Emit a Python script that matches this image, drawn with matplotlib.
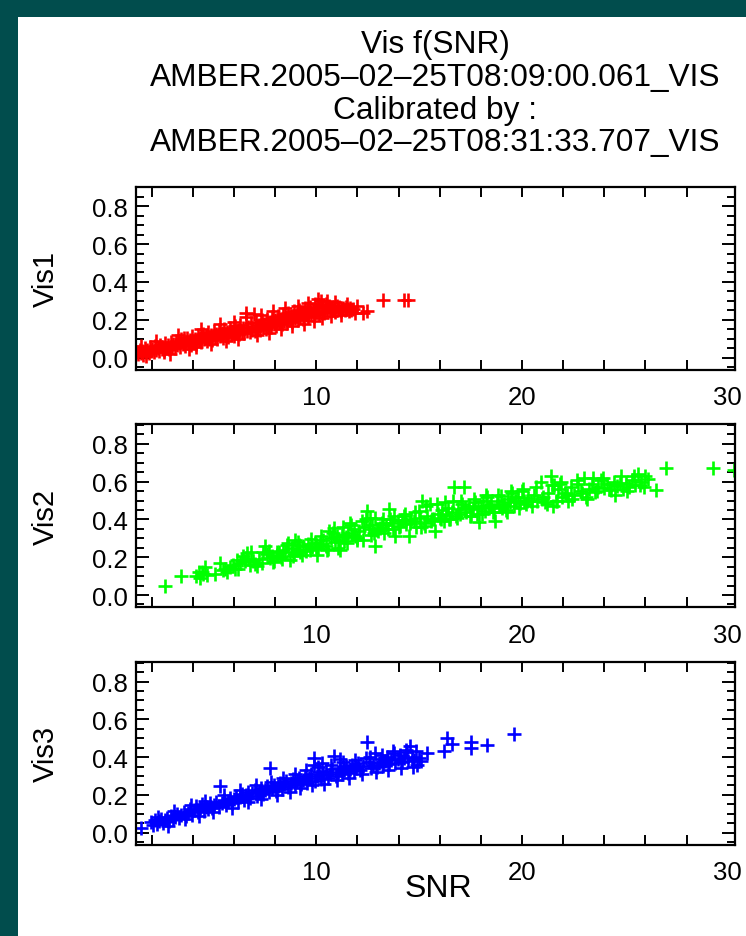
import matplotlib
matplotlib.use("Agg")
import matplotlib.pyplot as plt
from matplotlib.patches import Rectangle
from matplotlib.ticker import FixedLocator, MultipleLocator

plt.rcParams['font.family'] = ['Liberation Sans', 'DejaVu Sans']

title_lines = ["Vis f(SNR)",
               "AMBER.2005\u201302\u201325T08:09:00.061_VIS",
               "Calibrated by :",
               "AMBER.2005\u201302\u201325T08:31:33.707_VIS"]
x_label = "SNR"
panel_labels = ["Vis1", "Vis2", "Vis3"]
panel_colors = ["#ff0000", "#00ff00", "#0000ff"]
x_range = [1.24, 30.35]
y_range = [-0.065, 0.905]
x_major = [10, 20, 30]
x_minor = [2, 4, 6, 8, 12, 14, 16, 18, 22, 24, 26, 28]
y_major = [0.0, 0.2, 0.4, 0.6, 0.8]

vis1_snr = [1.30, 1.36, 1.42, 1.48, 1.55, 1.60, 1.66, 1.72, 1.79, 1.85, 1.90, 1.97,
            2.03, 2.10, 2.16, 2.22, 2.29, 2.35, 2.41, 2.48, 2.55, 2.61, 2.67, 2.74,
            2.80, 2.86, 2.93, 3.00, 3.06, 3.12, 3.19, 3.25, 3.32, 3.38, 3.45, 3.51,
            3.58, 3.64, 3.71, 3.77, 3.84, 3.90, 3.97, 4.03, 4.10, 4.16, 4.23, 4.29,
            4.36, 4.42, 4.49, 4.55, 4.62, 4.68, 4.75, 4.81, 4.88, 4.94, 5.01, 5.07,
            5.14, 5.20, 5.27, 5.33, 5.40, 5.46, 5.53, 5.59, 5.66, 5.72, 5.79, 5.85,
            5.92, 5.98, 6.05, 6.11, 6.18, 6.24, 6.31, 6.37, 6.44, 6.50, 6.57, 6.63,
            6.70, 6.76, 6.83, 6.89, 6.96, 7.02, 7.09, 7.15, 7.22, 7.28, 7.35, 7.41,
            7.48, 7.54, 7.61, 7.67, 7.74, 7.80, 7.87, 7.93, 8.00, 8.06, 8.13, 8.19,
            8.26, 8.32, 8.39, 8.45, 8.52, 8.58, 8.65, 8.71, 8.78, 8.84, 8.91, 8.97,
            9.04, 9.10, 9.17, 9.23, 9.30, 9.36, 9.43, 9.49, 9.56, 9.62, 9.69, 9.75,
            9.82, 9.88, 9.95, 10.01, 10.08, 10.14, 10.21, 10.27, 10.34, 10.40, 10.47, 10.53,
            10.60, 10.66, 10.73, 10.79, 10.86, 10.92, 10.99, 11.05, 11.12, 11.18, 11.25, 11.31,
            11.38, 11.44, 11.51, 11.57, 11.64, 11.70, 11.80, 12.25, 12.45, 13.25, 14.25, 14.45,
            2.20, 2.90, 3.30, 3.80, 4.40, 4.90, 5.30, 5.60, 6.00, 6.20, 6.60, 7.10,
            7.30, 7.70, 7.90, 8.30, 8.50, 8.80, 9.10, 9.40, 9.60, 9.90, 10.10, 10.30,
            10.50, 10.70, 10.90, 11.20, 11.50, 11.90, 12.00, 1.50, 1.75, 2.60, 3.55, 4.15]
vis1_val = [0.030, 0.018, 0.042, 0.025, 0.036, 0.015, 0.048, 0.030, 0.040, 0.022, 0.055, 0.035,
            0.046, 0.028, 0.060, 0.040, 0.052, 0.034, 0.068, 0.045, 0.058, 0.040, 0.075, 0.052,
            0.064, 0.046, 0.082, 0.058, 0.070, 0.050, 0.090, 0.064, 0.078, 0.056, 0.098, 0.070,
            0.084, 0.062, 0.105, 0.076, 0.092, 0.068, 0.112, 0.084, 0.098, 0.074, 0.120, 0.090,
            0.104, 0.080, 0.126, 0.096, 0.112, 0.086, 0.135, 0.100, 0.118, 0.092, 0.140, 0.106,
            0.124, 0.098, 0.146, 0.112, 0.130, 0.104, 0.152, 0.118, 0.136, 0.110, 0.158, 0.124,
            0.142, 0.116, 0.165, 0.130, 0.148, 0.122, 0.172, 0.136, 0.154, 0.128, 0.215, 0.142,
            0.160, 0.134, 0.184, 0.148, 0.230, 0.140, 0.190, 0.154, 0.172, 0.146, 0.196, 0.160,
            0.180, 0.152, 0.204, 0.168, 0.188, 0.160, 0.212, 0.176, 0.196, 0.168, 0.220, 0.184,
            0.204, 0.176, 0.228, 0.192, 0.212, 0.184, 0.236, 0.200, 0.220, 0.190, 0.244, 0.208,
            0.228, 0.198, 0.252, 0.216, 0.236, 0.206, 0.260, 0.224, 0.244, 0.214, 0.268, 0.232,
            0.252, 0.222, 0.285, 0.240, 0.262, 0.230, 0.300, 0.248, 0.270, 0.238, 0.282, 0.254,
            0.272, 0.244, 0.262, 0.250, 0.268, 0.242, 0.274, 0.252, 0.265, 0.246, 0.258, 0.262,
            0.250, 0.268, 0.255, 0.245, 0.262, 0.252, 0.258, 0.235, 0.248, 0.305, 0.302, 0.305,
            0.085, 0.020, 0.120, 0.045, 0.150, 0.070, 0.175, 0.085, 0.190, 0.100, 0.235, 0.120,
            0.225, 0.130, 0.245, 0.150, 0.260, 0.165, 0.275, 0.180, 0.290, 0.195, 0.310, 0.210,
            0.300, 0.220, 0.295, 0.225, 0.285, 0.235, 0.270, 0.060, 0.010, 0.030, 0.105, 0.055]

vis2_snr = [2.65, 3.41, 4.16, 4.30, 4.35, 4.43, 4.52, 4.60, 4.68, 5.45, 5.55, 5.65,
            5.80, 5.97, 6.05, 6.14, 6.30, 6.46, 6.55, 6.62, 6.70, 6.78, 6.95, 7.10,
            7.20, 7.35, 7.50, 7.60, 7.68, 7.75, 7.84, 7.95, 8.08, 8.20, 8.30, 8.40,
            8.50, 8.65, 8.73, 8.80, 8.90, 8.97, 9.06, 9.15, 9.22, 9.30, 9.38, 9.50,
            9.60, 9.70, 9.80, 9.95, 10.03, 10.10, 10.20, 10.35, 10.45, 10.50, 10.60, 10.70,
            10.84, 10.90, 11.00, 11.10, 11.16, 11.25, 11.33, 11.45, 11.55, 11.65, 11.75, 11.81,
            11.90, 11.98, 12.10, 12.20, 12.30, 12.46, 12.55, 12.62, 12.70, 12.79, 12.87, 12.95,
            13.10, 13.20, 13.30, 13.40, 13.52, 13.60, 13.68, 13.75, 13.84, 13.95, 14.08, 14.15,
            14.25, 14.35, 14.50, 14.60, 14.73, 14.85, 14.98, 15.05, 15.14, 15.22, 15.30, 15.40,
            15.54, 15.62, 15.70, 15.79, 15.90, 16.00, 16.10, 16.20, 16.30, 16.40, 16.50, 16.60,
            16.70, 16.80, 16.90, 17.00, 17.10, 17.20, 17.30, 17.40, 17.50, 17.60, 17.70, 17.80,
            17.90, 18.00, 18.10, 18.20, 18.30, 18.40, 18.50, 18.60, 18.70, 18.80, 18.90, 19.00,
            19.10, 19.20, 19.30, 19.40, 19.50, 19.60, 19.70, 19.80, 19.90, 20.00, 20.10, 20.20,
            20.30, 20.45, 20.60, 20.75, 20.90, 21.00, 21.10, 21.25, 21.40, 21.50, 21.55, 21.65,
            21.75, 21.85, 21.95, 22.10, 22.25, 22.40, 22.55, 22.70, 22.85, 23.00, 23.10, 23.25,
            23.40, 23.55, 23.70, 23.85, 24.00, 24.15, 24.30, 24.45, 24.60, 24.75, 24.90, 25.05,
            25.20, 25.35, 25.50, 25.65, 25.80, 25.95, 26.10, 26.50, 27.00, 29.30, 30.30,
            5.10, 5.30, 6.20, 6.40, 6.85, 7.00, 7.40, 7.90, 8.10, 8.35, 8.60, 8.85,
            9.10, 9.45, 9.75, 10.00, 10.25, 10.55, 10.80, 11.05, 11.30, 11.50, 11.70, 12.00,
            12.25, 12.40, 12.65, 12.85, 13.00, 13.25, 13.50, 13.80, 14.00, 14.30, 14.55, 14.80,
            15.10, 15.35, 15.60, 15.85, 16.05, 16.25, 16.45, 16.65, 16.85, 17.05, 17.25, 17.45,
            17.65, 17.85, 18.05, 18.25, 18.45, 18.65, 18.85, 19.05, 19.25, 19.45, 19.65, 19.85,
            20.05, 20.25, 20.50, 20.70, 20.95, 21.20, 21.45, 21.70, 21.90, 22.20, 22.45, 22.65,
            22.90, 23.15, 23.45, 23.65, 23.95, 24.25, 24.50, 24.80, 25.10, 25.45, 25.75, 26.00]
vis2_val = [0.048, 0.100, 0.098, 0.120, 0.089, 0.124, 0.110, 0.150, 0.107, 0.133, 0.140, 0.124,
            0.150, 0.160, 0.140, 0.187, 0.170, 0.204, 0.180, 0.222, 0.190, 0.160, 0.178, 0.151,
            0.190, 0.170, 0.258, 0.215, 0.231, 0.195, 0.204, 0.180, 0.213, 0.230, 0.200, 0.240,
            0.225, 0.276, 0.187, 0.250, 0.215, 0.293, 0.240, 0.265, 0.225, 0.213, 0.258, 0.235,
            0.270, 0.240, 0.255, 0.276, 0.213, 0.250, 0.270, 0.293, 0.260, 0.240, 0.338, 0.300,
            0.356, 0.280, 0.311, 0.290, 0.240, 0.320, 0.284, 0.305, 0.330, 0.382, 0.320, 0.347,
            0.310, 0.293, 0.340, 0.391, 0.360, 0.444, 0.350, 0.409, 0.370, 0.329, 0.258, 0.345,
            0.356, 0.380, 0.330, 0.370, 0.453, 0.400, 0.382, 0.350, 0.311, 0.390, 0.364, 0.395,
            0.418, 0.375, 0.311, 0.400, 0.391, 0.360, 0.444, 0.410, 0.498, 0.380, 0.364, 0.420,
            0.480, 0.400, 0.400, 0.338, 0.430, 0.410, 0.450, 0.390, 0.425, 0.460, 0.400, 0.440,
            0.570, 0.420, 0.455, 0.430, 0.480, 0.570, 0.440, 0.470, 0.420, 0.455, 0.490, 0.430,
            0.385, 0.470, 0.500, 0.445, 0.520, 0.460, 0.480, 0.440, 0.390, 0.500, 0.470, 0.525,
            0.480, 0.450, 0.510, 0.490, 0.540, 0.470, 0.500, 0.520, 0.485, 0.550, 0.500, 0.480,
            0.515, 0.495, 0.530, 0.500, 0.600, 0.520, 0.490, 0.540, 0.630, 0.470, 0.580, 0.500,
            0.560, 0.590, 0.520, 0.540, 0.500, 0.570, 0.530, 0.590, 0.550, 0.620, 0.520, 0.560,
            0.590, 0.545, 0.570, 0.610, 0.565, 0.590, 0.555, 0.600, 0.575, 0.585, 0.560, 0.595,
            0.570, 0.610, 0.580, 0.640, 0.600, 0.570, 0.615, 0.555, 0.670, 0.670, 0.660,
            0.110, 0.170, 0.140, 0.185, 0.225, 0.165, 0.225, 0.175, 0.225, 0.190, 0.265, 0.205,
            0.280, 0.240, 0.295, 0.255, 0.310, 0.245, 0.330, 0.250, 0.360, 0.275, 0.370, 0.300,
            0.290, 0.400, 0.320, 0.410, 0.340, 0.400, 0.350, 0.420, 0.360, 0.430, 0.380, 0.440,
            0.360, 0.470, 0.390, 0.480, 0.400, 0.490, 0.400, 0.500, 0.410, 0.500, 0.460, 0.420,
            0.510, 0.460, 0.430, 0.530, 0.470, 0.440, 0.530, 0.460, 0.440, 0.550, 0.500, 0.460,
            0.560, 0.500, 0.470, 0.570, 0.510, 0.480, 0.580, 0.500, 0.600, 0.530, 0.510, 0.610,
            0.540, 0.510, 0.620, 0.550, 0.620, 0.560, 0.530, 0.630, 0.550, 0.630, 0.580, 0.630]

vis3_snr = [1.46, 1.95, 2.05, 2.15, 2.25, 2.35, 2.45, 2.55, 2.65, 2.75, 2.85, 2.95,
            3.05, 3.15, 3.25, 3.35, 3.45, 3.55, 3.65, 3.75, 3.85, 3.95, 4.05, 4.15,
            4.25, 4.35, 4.45, 4.55, 4.65, 4.75, 4.85, 4.95, 5.05, 5.15, 5.25, 5.32,
            5.40, 5.50, 5.60, 5.70, 5.80, 5.90, 6.00, 6.10, 6.20, 6.30, 6.40, 6.50,
            6.60, 6.70, 6.80, 6.90, 7.00, 7.10, 7.20, 7.30, 7.40, 7.50, 7.60, 7.70,
            7.76, 7.85, 7.95, 8.05, 8.15, 8.25, 8.35, 8.45, 8.55, 8.65, 8.75, 8.85,
            8.95, 9.05, 9.15, 9.25, 9.35, 9.45, 9.55, 9.65, 9.75, 9.87, 9.95, 10.05,
            10.15, 10.25, 10.35, 10.45, 10.55, 10.65, 10.75, 10.84, 10.95, 11.05, 11.15, 11.25,
            11.35, 11.45, 11.55, 11.65, 11.75, 11.85, 11.95, 12.05, 12.15, 12.25, 12.46, 12.55,
            12.65, 12.75, 12.85, 12.95, 13.05, 13.15, 13.25, 13.35, 13.45, 13.55, 13.65, 13.75,
            13.85, 13.95, 14.05, 14.15, 14.25, 14.35, 14.45, 14.57, 14.65, 14.75, 14.90, 15.00,
            15.40, 16.20, 16.35, 16.60, 17.50, 17.50, 18.30, 19.60,
            2.30, 2.80, 3.10, 3.60, 3.90, 4.30, 4.60, 5.00, 5.50, 5.90, 6.30, 6.70,
            7.05, 7.30, 7.80, 8.10, 8.40, 8.70, 8.95, 9.20, 9.50, 9.80, 10.10, 10.40,
            10.70, 11.00, 11.30, 11.60, 11.90, 12.20, 12.60, 12.90, 13.20, 13.50, 13.80, 14.10,
            14.40, 14.70, 14.85, 15.10, 12.40, 11.15, 10.30, 9.90]
vis3_val = [0.027, 0.055, 0.040, 0.065, 0.048, 0.060, 0.075, 0.052, 0.068, 0.080, 0.062, 0.090,
            0.072, 0.085, 0.100, 0.078, 0.095, 0.110, 0.088, 0.105, 0.125, 0.095, 0.118, 0.140,
            0.108, 0.130, 0.150, 0.115, 0.138, 0.125, 0.155, 0.130, 0.148, 0.165, 0.135, 0.245,
            0.158, 0.175, 0.145, 0.168, 0.185, 0.155, 0.178, 0.195, 0.165, 0.188, 0.205, 0.175,
            0.198, 0.215, 0.185, 0.208, 0.225, 0.195, 0.218, 0.235, 0.205, 0.228, 0.245, 0.215,
            0.345, 0.238, 0.255, 0.222, 0.248, 0.265, 0.232, 0.258, 0.275, 0.240, 0.265, 0.285,
            0.250, 0.272, 0.292, 0.258, 0.280, 0.300, 0.265, 0.288, 0.310, 0.395, 0.272, 0.300,
            0.320, 0.282, 0.305, 0.325, 0.290, 0.312, 0.335, 0.405, 0.300, 0.320, 0.342, 0.310,
            0.330, 0.352, 0.318, 0.338, 0.360, 0.325, 0.345, 0.368, 0.332, 0.352, 0.480, 0.375,
            0.340, 0.360, 0.420, 0.348, 0.370, 0.390, 0.355, 0.378, 0.400, 0.362, 0.385, 0.430,
            0.370, 0.392, 0.410, 0.375, 0.398, 0.440, 0.380, 0.460, 0.400, 0.385, 0.360, 0.395,
            0.420, 0.430, 0.500, 0.470, 0.478, 0.450, 0.464, 0.520,
            0.085, 0.035, 0.115, 0.070, 0.145, 0.090, 0.170, 0.110, 0.200, 0.130, 0.225, 0.160,
            0.250, 0.180, 0.270, 0.200, 0.290, 0.215, 0.310, 0.235, 0.330, 0.250, 0.350, 0.260,
            0.360, 0.280, 0.375, 0.290, 0.385, 0.310, 0.400, 0.320, 0.410, 0.330, 0.420, 0.345,
            0.425, 0.350, 0.430, 0.380, 0.395, 0.390, 0.370, 0.360]

series_x = [vis1_snr, vis2_snr, vis3_snr]
series_y = [vis1_val, vis2_val, vis3_val]

W, H = 746, 937
teal = "#014d4d"
fig = plt.figure(figsize=(W / 100, H / 100), dpi=100, facecolor="white")
# dark border strips on the left and top edges
fig.patches.append(Rectangle((0, 0), 18 / W, 1, transform=fig.transFigure,
                             facecolor=teal, edgecolor="none", zorder=-10))
fig.patches.append(Rectangle((0, 1 - 18 / H), 1, 18 / H, transform=fig.transFigure,
                             facecolor=teal, edgecolor="none", zorder=-10))

# title lines
baselines = [53.5, 86.0, 118.5, 151.0]
for line, yb in zip(title_lines, baselines):
    fig.text(435.0 / W, 1 - yb / H, line, ha="center", va="baseline",
             fontsize=22.8, color="black")

left_px, right_px = 136, 735
tops = [187.5, 425.0, 662.7]
height_px = 183.3

for i in range(3):
    ax = fig.add_axes([left_px / W, 1 - (tops[i] + height_px) / H,
                       (right_px - left_px) / W, height_px / H])
    ax.set_facecolor("white")
    ax.plot(series_x[i], series_y[i], linestyle="none", marker="+",
            markersize=10.5, markeredgewidth=1.9, color=panel_colors[i],
            clip_on=True)
    ax.set_xlim(x_range)
    ax.set_ylim(y_range)
    ax.xaxis.set_major_locator(FixedLocator(x_major))
    ax.xaxis.set_minor_locator(FixedLocator(x_minor))
    ax.set_xticklabels([str(v) for v in x_major])
    ax.yaxis.set_major_locator(FixedLocator(y_major))
    ax.yaxis.set_minor_locator(MultipleLocator(0.05))
    ax.set_yticklabels(["%.1f" % v for v in y_major])
    ax.tick_params(axis="x", which="both", direction="in", top=True, bottom=True,
                   length=7, width=1.4, labelsize=18.5, pad=11)
    ax.tick_params(axis="y", which="major", direction="in", left=True, right=True,
                   length=9.5, width=1.4, labelsize=18.5, pad=6)
    ax.tick_params(axis="y", which="minor", direction="in", left=True, right=True,
                   length=6, width=1.4)
    # the last labelled x position has no tick mark in the original
    t30 = ax.xaxis.get_major_ticks()[2]
    t30.tick1line.set_visible(False)
    t30.tick2line.set_visible(False)
    for sp in ax.spines.values():
        sp.set_linewidth(1.6)
    ax.set_ylabel(panel_labels[i], fontsize=21, va="center")
    ax.yaxis.set_label_coords((46 - left_px) / (right_px - left_px), 0.5)
    if i == 2:
        ax.set_xlabel(x_label, fontsize=23, va="center")
        ax.xaxis.set_label_coords(0.505, -(889 - tops[i] - height_px) / height_px)

fig.savefig("out.png", dpi=100, facecolor=fig.get_facecolor())
